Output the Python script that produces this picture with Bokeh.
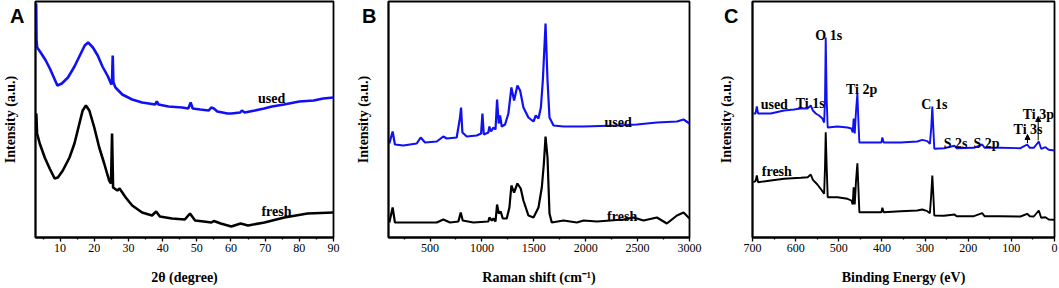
from bokeh.plotting import figure
from bokeh.models import Range1d, FixedTicker, Label, Arrow, NormalHead
from bokeh.layouts import row
from bokeh.embed import file_html
from bokeh.resources import INLINE

# ---------------- Panel A : XRD ----------------
a_used_x = [3.0, 3.1, 3.3, 4.5, 5.8, 7.0, 8.3, 9.2, 10.5, 12.3, 14.2, 16.2, 17.2, 18.2, 19.6, 21.0,
            22.4, 24.0, 25.0, 25.2, 25.4, 25.6, 26.2, 28.2, 31.1, 34.0, 37.8, 38.3, 38.8, 41.7, 45.7,
            47.5, 48.2, 48.8, 51.0, 53.5, 54.2, 55.0, 56.0, 59.0, 60.1, 62.7, 63.2, 64.0, 67.0, 69.7,
            72.0, 75.5, 80.0, 84.2, 87.0, 90.0]
a_used_y = [234, 197, 190, 184, 177, 169, 159, 152, 154, 160, 171, 185, 192, 195, 190, 182,
            171, 161, 153, 157, 182, 155, 150, 143, 138, 135, 133, 136, 133, 131, 130,
            129, 135, 129, 128, 127, 130, 129, 126, 124, 124, 125, 127, 125, 127, 129,
            131, 133, 136, 137, 139, 140]
a_fresh_x = [3.0, 3.06, 3.26, 4.04, 5.5, 6.94, 8.4, 9.35, 10.8, 12.75, 14.2, 15.65, 16.6, 17.56, 18.55,
             20.0, 21.45, 22.9, 24.35, 24.9, 25.2, 25.5, 26.75, 27.4, 29.2, 31.1, 34.0, 36.9, 38.1,
             39.2, 42.7, 46.5, 48.0, 49.5, 52.0, 54.3, 55.0, 57.0, 60.1, 62.8, 65.0, 69.8, 75.6,
             82.4, 90.0]
a_fresh_y = [124, 122, 104, 94, 80, 69, 59, 60, 67, 80, 94, 114, 127, 132, 127,
             110, 90, 74, 57, 54, 104, 50, 47, 49, 40, 32, 25, 22, 26,
             21, 19, 18, 24, 17, 16, 15, 16.5, 14, 11, 14, 12, 15, 20,
             24, 25]
a_major = [10, 20, 30, 40, 50, 60, 70, 80, 90]
a_minor = [5, 15, 25, 35, 45, 55, 65, 75, 85]

# ---------------- Panel B : Raman ----------------
b_used_x = [108, 140, 162, 243, 372, 410, 452, 565, 628, 661, 757, 789, 799, 812, 854, 950, 992,
            1005, 1018, 1062, 1072, 1088, 1111, 1131, 1146, 1162, 1175, 1191, 1223, 1255, 1284,
            1310, 1342, 1368, 1400, 1448, 1497, 1519, 1545, 1568, 1587, 1613, 1632, 1651, 1690,
            1786, 1979, 2300, 2493, 2686, 2879, 2943, 3000]
b_used_y = [94, 106, 93, 92, 94, 100, 95, 96, 101, 99, 100, 120, 130, 105, 101, 102, 104,
            124, 103, 105, 111, 106, 110, 108, 138, 114, 122, 111, 113, 124, 150,
            137, 152, 147, 130, 120, 116, 122, 119, 130, 157, 214, 157, 120, 112,
            111, 111, 112, 113, 115, 116, 118, 114]
b_fresh_x = [108, 140, 162, 372, 565, 628, 693, 773, 796, 815, 918, 1062, 1072, 1095, 1111, 1131,
             1146, 1162, 1181, 1201, 1239, 1265, 1284, 1310, 1342, 1374, 1400, 1448, 1497, 1545,
             1577, 1597, 1613, 1632, 1651, 1673, 1786, 1915, 1979, 2108, 2236, 2365, 2461, 2557,
             2686, 2782, 2879, 2943, 3000]
b_fresh_y = [15, 30, 15, 15, 15, 18, 15, 16, 25, 17, 15, 16, 20, 17, 19, 16,
             33, 24, 26, 19, 19, 30, 52, 45, 54, 49, 37, 22, 20, 30,
             50, 74, 101, 80, 24, 15, 17, 15, 17, 16, 17, 18, 20, 17,
             20, 14, 22, 25, 19]
b_major = [500, 1000, 1500, 2000, 2500, 3000]
b_minor = [250, 750, 1250, 1750, 2250, 2750]

# ---------------- Panel C : XPS ----------------
c_used_x = [697.7, 693, 690, 687, 673, 657.6, 626.8, 603.7, 588, 572.7, 565, 560, 553.4, 545.8, 538,
            534, 531.9, 530.3, 528, 525.7, 503, 480, 470.8, 467.8, 465.5, 463, 460, 456.9, 454.6,
            452.3, 426, 401.3, 399, 396, 356.6, 318, 306.4, 294.8, 288.8, 285.6, 283.2, 281, 278.6,
            256.3, 231.6, 227, 186.9, 167.5, 162.2, 125, 78.8, 63.3, 57.3, 48, 36.4, 30.9, 21,
            13.3, 0]
c_used_y = [124, 124, 131, 124, 124, 124, 127, 128, 129, 129, 132, 127, 124, 122, 119,
            115, 137, 200, 137, 110, 111, 110, 109, 105, 119, 104, 127, 144, 117,
            95, 95, 95, 100, 95, 95, 96, 97.7, 96.3, 93.7, 110.3, 131, 110.3, 88.7,
            89.3, 91.7, 89.3, 89.7, 93, 89.7, 89.7, 89.3, 93, 89.7, 89.7, 96, 88.7, 90.3,
            87.7, 87]
c_fresh_x = [697.7, 693, 690, 687, 657.6, 626.8, 588, 572, 565, 560, 549.6, 542, 534, 531.9, 530.3,
             528, 525.7, 503, 480, 470.8, 467.8, 465.5, 463, 460, 456.9, 454.6, 452.3, 426, 401.3,
             399, 396, 356.6, 318, 306.4, 294.8, 288.8, 285.6, 283.2, 281, 278.6, 256.3, 231.6,
             227, 186.9, 167.5, 162.2, 125, 78.8, 63.3, 57.3, 48, 36.4, 30.9, 21, 13.3, 0]
c_fresh_y = [55.3, 56.3, 62, 55.3, 57, 58.7, 59.7, 60.3, 63, 57.7, 53, 48.7, 43.7, 70.3, 105.3,
             70.3, 40.3, 40.3, 38.7, 37, 33, 50.3, 33, 57, 74.3, 50.3, 25.3, 25.3, 25.3,
             29.7, 25.3, 26.3, 27, 28, 26.3, 24.3, 43.7, 62, 43.7, 22, 21.7, 23,
             21.3, 21.3, 24.3, 21.3, 21.3, 21, 23.7, 21.3, 21, 27, 19.7, 20.3, 18, 17.7]
c_major = [700, 600, 500, 400, 300, 200, 100, 0]
c_minor = [650, 550, 450, 350, 250, 150, 50]

c_peak_names = ["O 1s", "Ti 1s", "Ti 2p", "C 1s", "S 2s", "S 2p", "Ti 3s", "Ti 3p"]
panel_letters = ["A", "B", "C"]

SERIF = "Liberation Serif"
BLUE = "#1010f5"
LETTER_LEVEL = 222   # vertical place of the panel letter, in the (tick-less) intensity scale


def make_fig(width, left, right, xr, major, minor, xlabel, letter, letter_standoff, ylab_standoff):
    p = figure(width=width, height=288, x_range=xr, y_range=Range1d(0, 236),
               output_backend="svg", toolbar_location=None,
               min_border_left=left, min_border_right=right,
               min_border_top=1, min_border_bottom=51)
    p.grid.visible = False
    p.outline_line_color = "black"
    p.outline_line_width = 1.8
    p.outline_line_alpha = 1.0
    xa = p.xaxis[0]
    xa.ticker = FixedTicker(ticks=major, minor_ticks=minor)
    xa.axis_line_color = "black"
    xa.axis_line_width = 1.8
    xa.major_tick_out = 4
    xa.major_tick_in = 0
    xa.minor_tick_out = 2
    xa.minor_tick_in = 0
    xa.major_tick_line_color = "black"
    xa.minor_tick_line_color = "black"
    xa.major_tick_line_width = 1.3
    xa.minor_tick_line_width = 1.3
    xa.major_label_standoff = 2
    xa.major_label_text_font = SERIF
    xa.major_label_text_font_size = "12px"
    xa.major_label_text_color = "black"
    xa.axis_label = xlabel
    xa.axis_label_text_font = SERIF
    xa.axis_label_text_font_style = "bold"
    xa.axis_label_text_font_size = "14px"
    xa.axis_label_text_color = "black"
    xa.axis_label_standoff = 15
    ya = p.yaxis[0]
    # the panel letter is drawn as the single horizontal label of the left axis
    ya.ticker = FixedTicker(ticks=[LETTER_LEVEL])
    ya.major_label_overrides = {LETTER_LEVEL: letter}
    ya.major_label_orientation = "horizontal"
    ya.major_label_text_font = "Liberation Sans"
    ya.major_label_text_font_style = "bold"
    ya.major_label_text_font_size = "20px"
    ya.major_label_text_color = "black"
    ya.major_label_standoff = letter_standoff
    ya.axis_line_color = "black"
    ya.axis_line_width = 1.8
    ya.major_tick_out = 0
    ya.major_tick_in = 0
    ya.minor_tick_out = 0
    ya.minor_tick_in = 0
    ya.axis_label = "Intensity (a.u.)"
    ya.axis_label_text_font = SERIF
    ya.axis_label_text_font_style = "bold"
    ya.axis_label_text_font_size = "14px"
    ya.axis_label_text_color = "black"
    ya.axis_label_standoff = ylab_standoff
    return p


def note(p, x, y, t, align="center"):
    p.add_layout(Label(x=x, y=y, text=t, text_font=SERIF, text_font_style="bold",
                       text_font_size="14px", text_align=align, text_baseline="alphabetic",
                       text_color="black"))


# Panel A
pa = make_fig(352, 32, 19, Range1d(2.8, 90), a_major, a_minor, "2θ (degree)",
              panel_letters[0], 11, -11)
pa.line(a_used_x, a_used_y, line_color=BLUE, line_width=2.6)
pa.line(a_fresh_x, a_fresh_y, line_color="black", line_width=2.6)
note(pa, 71.9, 139.4, "used")
note(pa, 73.3, 26, "fresh")

# Panel B
pb = make_fig(354, 36, 17, Range1d(100, 3000), b_major, b_minor, "Raman shift (cm⁻¹)",
              panel_letters[1], 12, -12)
pb.line(b_used_x, b_used_y, line_color=BLUE, line_width=2.2)
pb.line(b_fresh_x, b_fresh_y, line_color="black", line_width=2.2)
note(pb, 2313, 115, "used")
note(pb, 2351, 20.7, "fresh")

# Panel C
pc = make_fig(353, 46, 5, Range1d(700, 0), c_major, c_minor, "Binding Energy (eV)",
              panel_letters[2], 14, -13)
pc.line(c_used_x, c_used_y, line_color=BLUE, line_width=1.9)
pc.line(c_fresh_x, c_fresh_y, line_color="black", line_width=1.9)
note(pc, 649.5, 132.7, "used")
note(pc, 643.7, 66, "fresh")
c_pos = {"O 1s": (523.3, 201.7), "Ti 1s": (566.2, 134.4), "Ti 2p": (447, 147.7),
         "C 1s": (278.6, 133.4), "S 2s": (229.3, 94.4), "S 2p": (157.5, 94.4),
         "Ti 3s": (61.4, 107.7), "Ti 3p": (37.5, 122.7)}
for name in c_peak_names:
    x, y = c_pos[name]
    note(pc, x, y, name)
pc.add_layout(Arrow(end=NormalHead(size=5, fill_color="black", line_color="black", line_width=1),
                    x_start=62.6, y_start=94.3, x_end=62.6, y_end=103, line_width=1))
pc.add_layout(Arrow(end=NormalHead(size=5, fill_color="black", line_color="black", line_width=1),
                    x_start=37.8, y_start=97, x_end=37.8, y_end=121, line_width=1))

layout = row(pa, pb, pc, spacing=0)
open("out.html", "w").write(file_html(layout, INLINE))
